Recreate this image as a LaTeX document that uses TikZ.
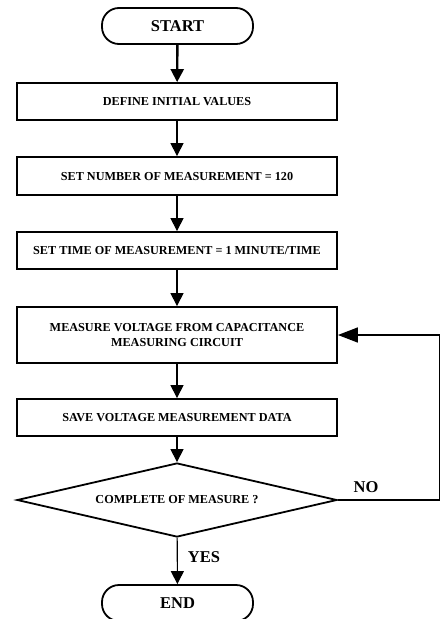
\documentclass[tikz,border=0pt]{standalone}
\usepackage{fontspec}
\setmainfont{Liberation Serif}
\usetikzlibrary{shapes.geometric,arrows.meta}
\begin{document}
\begin{tikzpicture}[x=1pt,y=1pt,
  boxst/.style={draw,line width=1.8pt,minimum width=320pt,inner sep=0pt,align=center,font=\bfseries\fontsize{12.2}{15}\selectfont},
  termst/.style={draw,line width=1.8pt,rounded corners=17pt,minimum width=151pt,minimum height=36pt,inner sep=0pt,font=\bfseries\fontsize{16.5}{18}\selectfont},
  decst/.style={draw,diamond,aspect=4.32,line width=1.8pt,minimum width=320pt,minimum height=74pt,inner sep=0pt,font=\bfseries\fontsize{12.2}{14}\selectfont},
  lab/.style={font=\bfseries\fontsize{16.5}{18}\selectfont,inner sep=0pt},
  arr/.style={line width=1.1pt,-{Triangle[length=13pt,width=13pt]}},
  arrthick/.style={line width=2.4pt,-{Triangle[length=13pt,width=13pt]}},
  fb/.style={line width=1.5pt,-{Triangle[length=20pt,width=15pt]}}]
\useasboundingbox (0,0) rectangle (441,-619);
\clip (0,0) rectangle (441,-619);
\node[termst] (start) at (177.5,-26) {START};
\node[boxst,minimum height=37pt] (b1) at (177,-101.5) {DEFINE INITIAL VALUES};
\node[boxst,minimum height=38pt] (b2) at (177,-176) {SET NUMBER OF MEASUREMENT = 120};
\node[boxst,minimum height=37pt] (b3) at (177,-250.5) {SET TIME OF MEASUREMENT = 1 MINUTE/TIME};
\node[boxst,minimum height=56pt] (b4) at (177,-335) {MEASURE VOLTAGE FROM CAPACITANCE\\MEASURING CIRCUIT\hspace{12pt}};
\node[boxst,minimum height=37pt] (b5) at (177,-417.5) {SAVE VOLTAGE MEASUREMENT DATA};
\node[decst] (dec) at (177,-500) {COMPLETE OF MEASURE ?};
\node[termst] (end) at (177.5,-603) {END};
\node[lab] (no) at (366,-487) {NO};
\node[lab] (yes) at (204,-557) {YES};
\coordinate (fbc) at (439.5,-500);
\draw[arrthick] (start) -- (b1);
\draw[arr] (b1) -- (b2);
\draw[arr] (b2) -- (b3);
\draw[arr] (b3) -- (b4);
\draw[arr] (b4) -- (b5);
\draw[arr] (b5) -- (dec);
\draw[arr] (dec) -- (end);
\draw[fb] (dec.east) -- (fbc) |- (b4.east);
\end{tikzpicture}
\end{document}
